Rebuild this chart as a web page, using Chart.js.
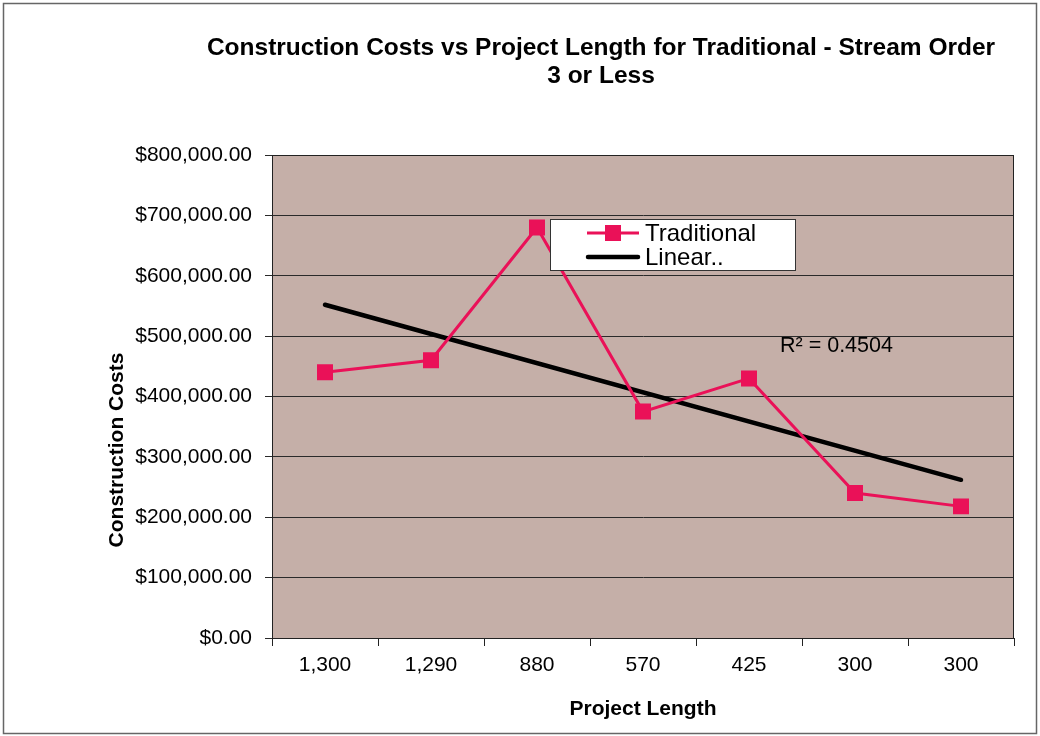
<!DOCTYPE html>
<html>
<head>
<meta charset="utf-8">
<script src="https://cdn.jsdelivr.net/npm/chart.js@4"></script>
<style>
  html, body { margin: 0; padding: 0; background: #ffffff; }
  #wrap { width: 1040px; height: 736px; position: relative; }
</style>
</head>
<body>
<div id="wrap"><canvas id="c" width="1040" height="736"></canvas></div>
<script>
// ---- data ----
const titleLines = ['Construction Costs vs Project Length for Traditional - Stream Order', '3 or Less'];
const categories = ['1,300', '1,290', '880', '570', '425', '300', '300'];
const traditionalCosts = [440000, 460000, 680000, 375000, 430000, 240000, 218000];
const linearTrend = [552000, null, null, null, null, null, 262000];
const yMin = 0;
const yMax = 800000;
const yStep = 100000;
const seriesNames = ['Traditional', 'Linear..'];
const r2Label = 'R\u00B2 = 0.4504';
const xAxisTitle = 'Project Length';
const yAxisTitle = 'Construction Costs';

const FONT = '"Liberation Sans", Arial, Helvetica, sans-serif';
const PINK = '#ea1158';

const decor = {
  id: 'decor',
  beforeDraw(chart) {
    const { ctx, chartArea: a } = chart;
    ctx.save();
    ctx.fillStyle = '#c5afa8';
    ctx.fillRect(a.left, a.top, a.right - a.left, a.bottom - a.top);
    ctx.restore();
  },
  afterDraw(chart) {
    const { ctx, chartArea: a } = chart;
    ctx.save();
    // plot border
    ctx.strokeStyle = '#222';
    ctx.lineWidth = 1;
    ctx.strokeRect(a.left + 0.5, a.top + 0.5, a.right - a.left - 1, a.bottom - a.top);
    // outer frame
    ctx.strokeStyle = '#666';
    ctx.lineWidth = 1.5;
    ctx.strokeRect(3.5, 3.5, 1033, 730);
    // title
    ctx.fillStyle = '#000';
    ctx.font = 'bold 24.5px ' + FONT;
    ctx.textAlign = 'center';
    ctx.textBaseline = 'middle';
    ctx.fillText(titleLines[0], 601, 48);
    ctx.fillText(titleLines[1], 601, 76);
    // y axis title
    ctx.save();
    ctx.translate(117, 450);
    ctx.rotate(-Math.PI / 2);
    ctx.font = 'bold 21px ' + FONT;
    ctx.fillText(yAxisTitle, 0, 0);
    ctx.restore();
    // R² label
    ctx.font = '21.5px ' + FONT;
    ctx.textAlign = 'left';
    ctx.fillText(r2Label, 780, 346);
    // legend
    const bx = 550, by = 219, bw = 245, bh = 51;
    ctx.fillStyle = '#fff';
    ctx.fillRect(bx, by, bw, bh);
    ctx.strokeStyle = '#333';
    ctx.lineWidth = 1;
    ctx.strokeRect(bx + 0.5, by + 0.5, bw, bh);
    const ds = chart.data.datasets;
    // traditional
    ctx.strokeStyle = PINK;
    ctx.lineWidth = 3;
    ctx.beginPath(); ctx.moveTo(587, 233); ctx.lineTo(639, 233); ctx.stroke();
    ctx.fillStyle = PINK;
    ctx.fillRect(605, 225, 16, 16);
    // linear
    ctx.strokeStyle = '#000';
    ctx.lineWidth = 4.5;
    ctx.lineCap = 'round';
    ctx.beginPath(); ctx.moveTo(588, 257); ctx.lineTo(638, 257); ctx.stroke();
    ctx.fillStyle = '#000';
    ctx.font = '24px ' + FONT;
    ctx.textBaseline = 'middle';
    ctx.fillText(ds[0].label, 645, 234);
    ctx.fillText(ds[1].label, 645, 258);
    ctx.restore();
  }
};

new Chart(document.getElementById('c'), {
  type: 'line',
  data: {
    labels: categories,
    datasets: [
      {
        label: seriesNames[0],
        data: traditionalCosts,
        borderColor: PINK,
        backgroundColor: PINK,
        borderWidth: 3,
        pointStyle: 'rect',
        pointRadius: 11.3,
        pointBackgroundColor: PINK,
        pointBorderColor: PINK,
        pointBorderWidth: 0,
        tension: 0,
        order: 1
      },
      {
        label: seriesNames[1],
        data: linearTrend,
        spanGaps: true,
        borderColor: '#000',
        borderWidth: 4.5,
        borderCapStyle: 'round',
        pointRadius: 0,
        tension: 0,
        order: 2
      }
    ]
  },
  options: {
    responsive: false,
    animation: false,
    events: [],
    layout: { padding: { top: 155, left: 101, right: 26, bottom: 10 } },
    plugins: {
      legend: { display: false },
      title: { display: false },
      tooltip: { enabled: false }
    },
    scales: {
      x: {
        type: 'category',
        offset: true,
        afterFit(scale) { scale.height = 88; },
        grid: {
          offset: true,
          drawOnChartArea: false,
          drawTicks: true,
          tickLength: 8,
          color: '#222',
          lineWidth: 1
        },
        border: { color: '#222', width: 1 },
        ticks: {
          color: '#000',
          font: { family: FONT, size: 21 },
          padding: 7,
          maxRotation: 0,
          autoSkip: false
        },
        title: {
          display: true,
          text: xAxisTitle,
          color: '#000',
          font: { family: FONT, size: 21, weight: 'bold' },
          padding: { top: 4, bottom: 4 }
        }
      },
      y: {
        min: yMin,
        max: yMax,
        afterFit(scale) { scale.width = 171; },
        grid: {
          color: '#2a2a2a',
          lineWidth: 1,
          drawTicks: true,
          tickLength: 7
        },
        border: { color: '#222', width: 1 },
        ticks: {
          stepSize: yStep,
          color: '#000',
          font: { family: FONT, size: 21 },
          padding: 13,
          callback: (v) => '$' + Number(v).toLocaleString('en-US', { minimumFractionDigits: 2, maximumFractionDigits: 2 })
        },
        title: { display: false }
      }
    }
  },
  plugins: [decor]
});
</script>
</body>
</html>
